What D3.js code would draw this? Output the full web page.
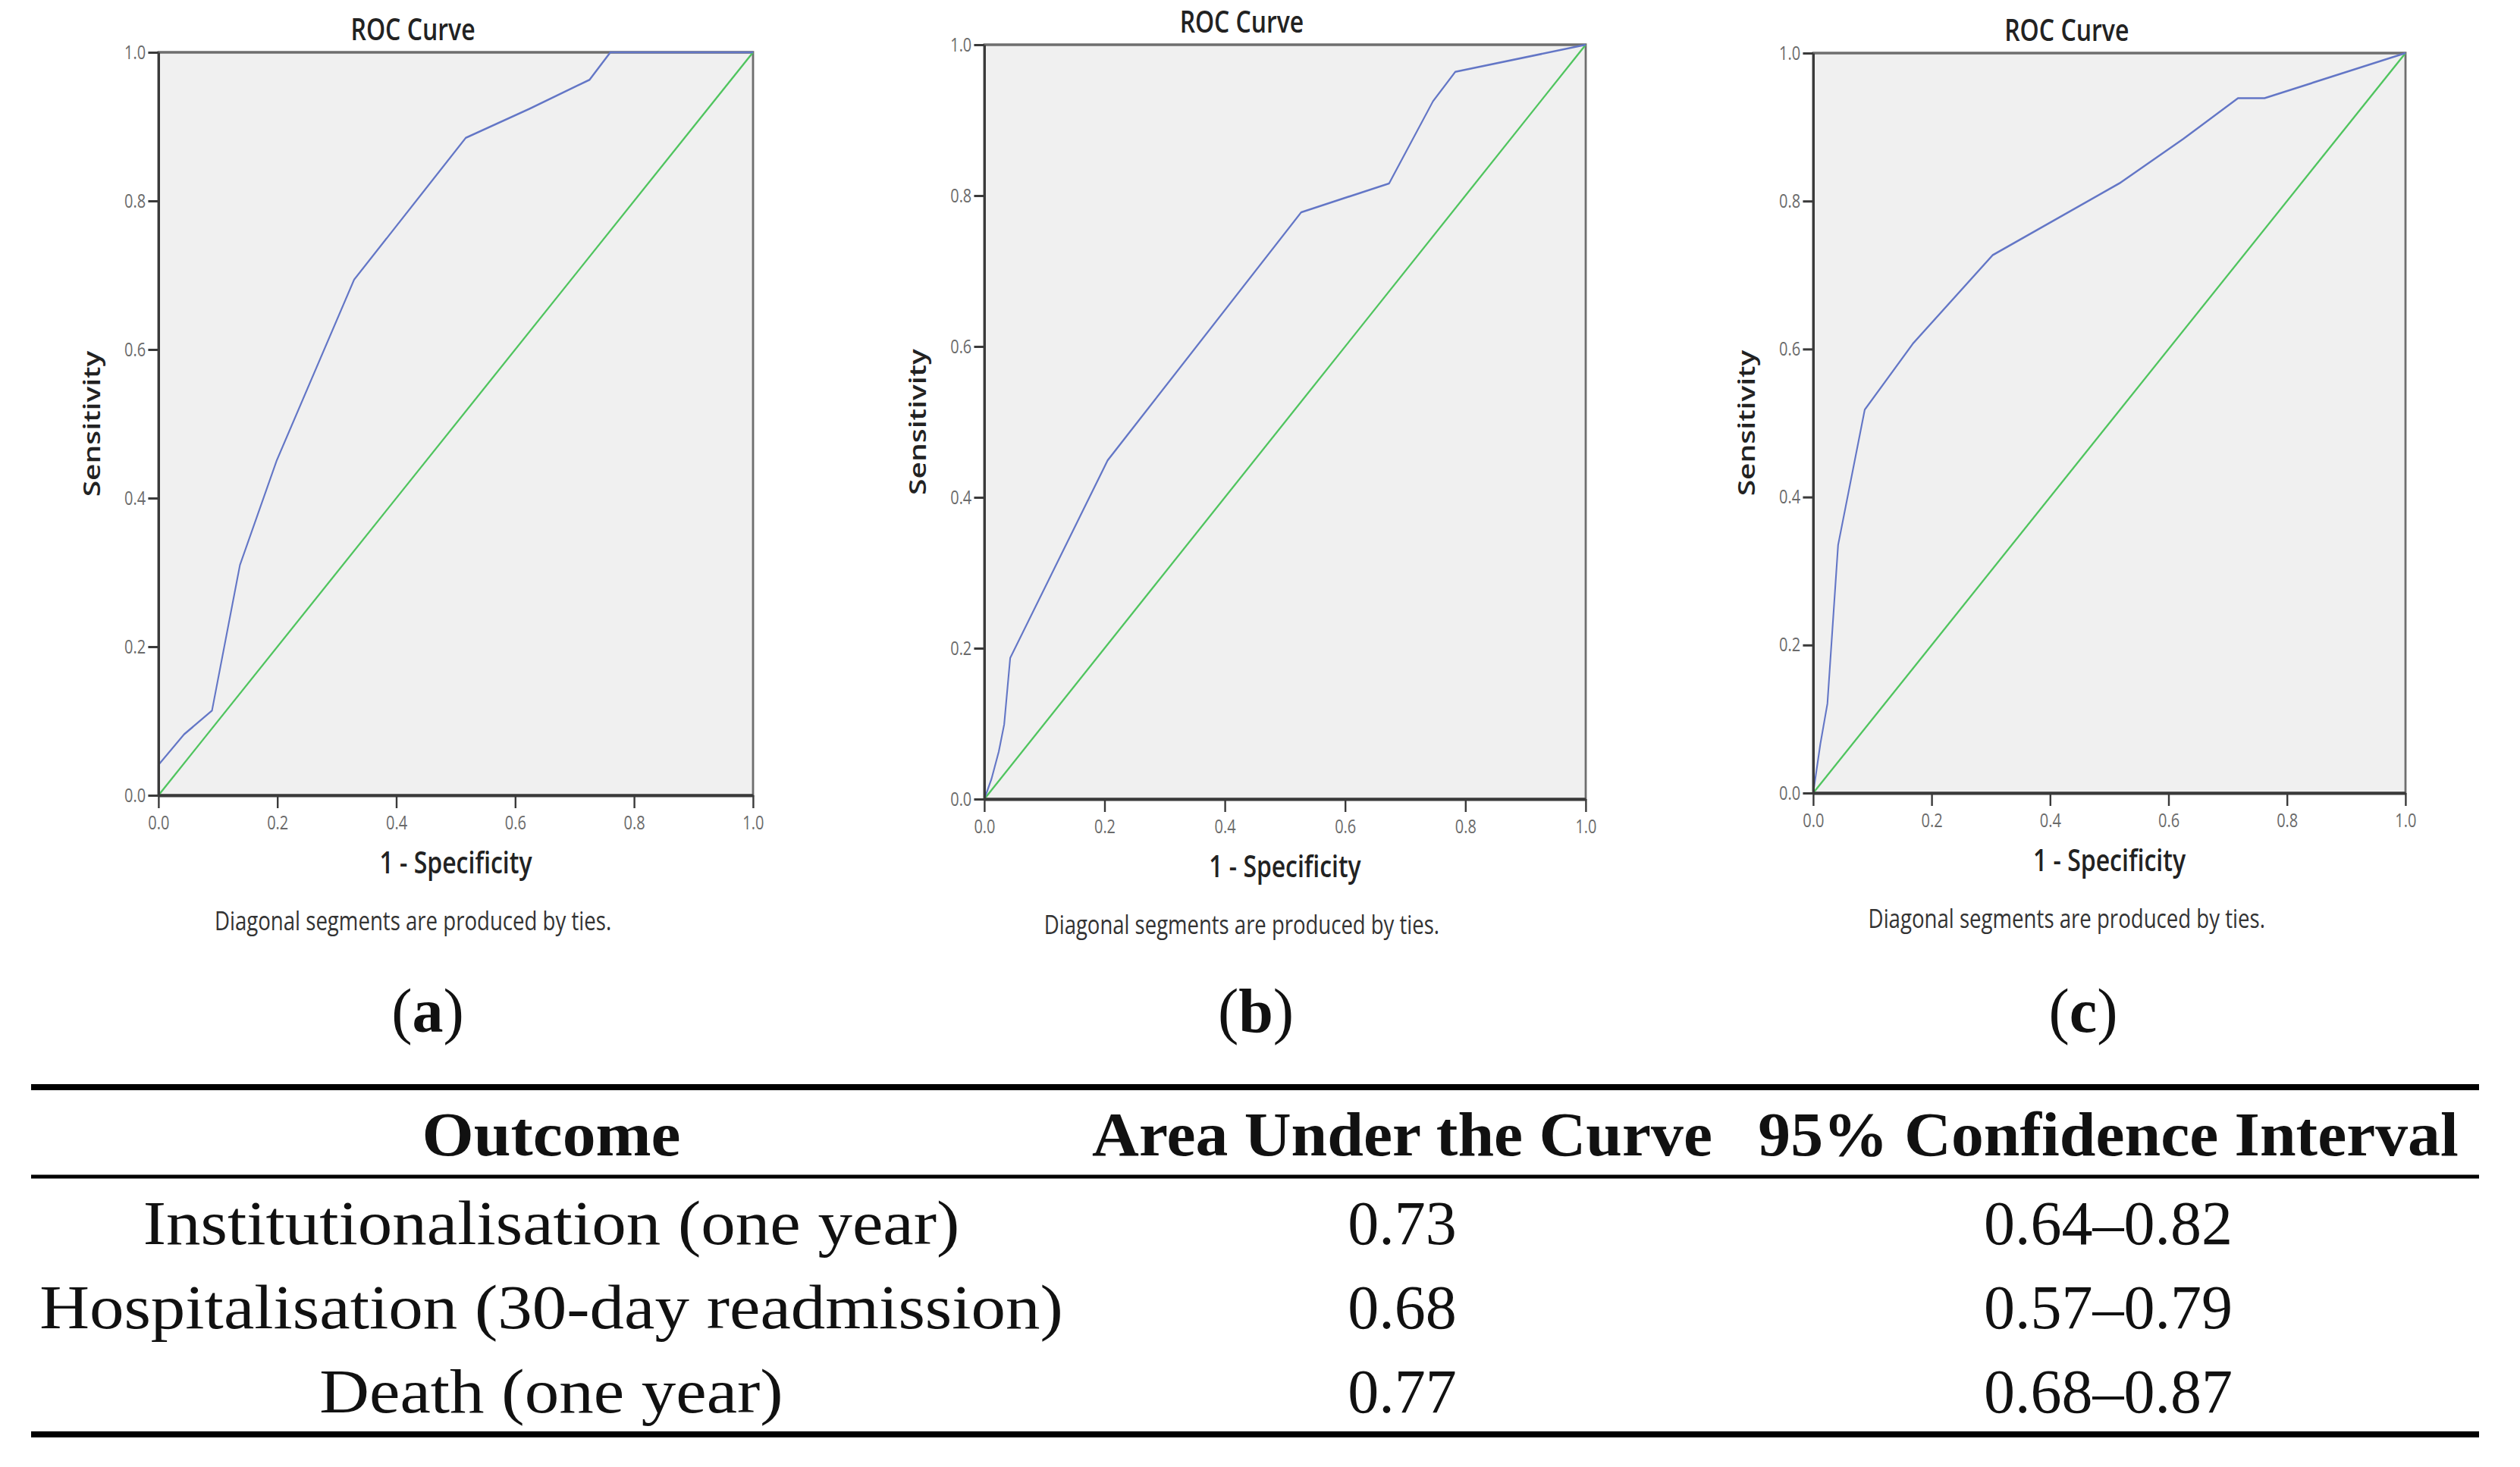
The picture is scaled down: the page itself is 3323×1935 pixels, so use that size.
<!DOCTYPE html>
<html>
<head>
<meta charset="utf-8">
<script src="https://cdn.jsdelivr.net/npm/d3@7"></script>
<style>
    body { margin: 0; background: #fff; }
</style>
</head>
<body>
<svg id="fig"></svg>
<script>
"use strict";

const width = 3323;
const height = 1935;

// ROC points: [1 - specificity, sensitivity]
const roc_a = [[0, 0], [0, 0.041], [0.043, 0.082], [0.09, 0.114], [0.137, 0.31], [0.199, 0.451],
    [0.329, 0.694], [0.517, 0.885], [0.624, 0.924], [0.725, 0.963], [0.76, 1], [1, 1]];
const roc_b = [[0, 0], [0.012, 0.027], [0.024, 0.063], [0.033, 0.099], [0.043, 0.187], [0.205, 0.449],
    [0.527, 0.778], [0.673, 0.816], [0.746, 0.925], [0.783, 0.964], [1, 1]];
const roc_c = [[0, 0], [0.012, 0.066], [0.024, 0.121], [0.042, 0.335], [0.087, 0.518], [0.168, 0.607],
    [0.303, 0.727], [0.517, 0.824], [0.625, 0.884], [0.717, 0.939], [0.762, 0.939], [1, 1]];
const reference_line = [[0, 0], [1, 1]];

const tick_values = [0, 0.2, 0.4, 0.6, 0.8, 1.0];
const panel_letters = ["a", "b", "c"];

const outcomes = ["Institutionalisation (one year)", "Hospitalisation (30-day readmission)", "Death (one year)"];
const auc_values = ["0.73", "0.68", "0.77"];
const ci_labels = ["0.64\u20130.82", "0.57\u20130.79", "0.68\u20130.87"];
const table_headers = ["Outcome", "Area Under the Curve", "95% Confidence Interval"];

const chart_font = "'Open Sans', 'DejaVu Sans', sans-serif";
const table_font = "'Liberation Serif', 'DejaVu Serif', serif";
const curve_color = "#6376c6";
const diag_color = "#4fc45e";

const svg = d3.select("#fig")
    .attr("width", width)
    .attr("height", height);

svg.append("rect")
    .attr("width", width)
    .attr("height", height)
    .attr("fill", "#fff");

// plot boxes in page pixels; the SPSS charts are squeezed horizontally
const panels = [
    { curve: roc_a, left: 209, top: 69, w: 784, h: 980, label_x: 564 },
    { curve: roc_b, left: 1298, top: 59, w: 793, h: 995, label_x: 1656 },
    { curve: roc_c, left: 2391, top: 70, w: 781, h: 976, label_x: 2747 }
];

panels.forEach((p, i) => {
    const size = p.h;
    const g = svg.append("g")
        .attr("transform", `translate(${p.left}, ${p.top}) scale(${p.w / p.h}, 1)`);

    const x_scale = d3.scaleLinear().domain([0, 1]).range([0, size]);
    const y_scale = d3.scaleLinear().domain([0, 1]).range([size, 0]);

    g.append("rect")
        .attr("width", size)
        .attr("height", size)
        .attr("fill", "#f0f0f0")
        .attr("stroke", "#6e6e6e")
        .attr("stroke-width", 3.5);

    const line = d3.line()
        .x(d => x_scale(d[0]))
        .y(d => y_scale(d[1]));

    g.append("path")
        .datum(reference_line)
        .attr("d", line)
        .attr("fill", "none")
        .attr("stroke", diag_color)
        .attr("stroke-width", 2.6);

    g.append("path")
        .datum(p.curve)
        .attr("d", line)
        .attr("fill", "none")
        .attr("stroke", curve_color)
        .attr("stroke-width", 2.6)
        .attr("stroke-linejoin", "round");

    // axis
    const axis_x = g.append("g")
        .attr("transform", `translate(0, ${size})`)
        .call(
            d3.axisBottom(x_scale)
                .tickValues(tick_values)
                .tickFormat(d3.format(".1f"))
                .tickSize(17)
                .tickSizeOuter(0)
                .tickPadding(10)
        );

    const axis_y = g.append("g")
        .call(
            d3.axisLeft(y_scale)
                .tickValues(tick_values)
                .tickFormat(d3.format(".1f"))
                .tickSize(17)
                .tickSizeOuter(0)
                .tickPadding(4)
        );

    [axis_x, axis_y].forEach(ax => {
        ax.select(".domain")
            .attr("stroke", "#3a3a3a")
            .attr("stroke-width", 4);
        ax.selectAll(".tick line")
            .attr("stroke", "#3a3a3a")
            .attr("stroke-width", 3);
        ax.selectAll(".tick text")
            .attr("font-family", chart_font)
            .attr("font-size", 25)
            .attr("fill", "#6a6a6a");
    });

    g.append("text")
        .attr("x", size * 0.428)
        .attr("y", -16)
        .attr("text-anchor", "middle")
        .attr("font-family", chart_font)
        .attr("font-size", 40)
        .attr("font-weight", 600)
        .attr("fill", "#222")
        .text("ROC Curve");

    g.append("text")
        .attr("transform", `translate(-96, ${size / 2}) rotate(-90)`)
        .attr("text-anchor", "middle")
        .attr("font-family", chart_font)
        .attr("font-size", 39)
        .attr("font-weight", 600)
        .attr("fill", "#222")
        .text("Sensitivity");

    g.append("text")
        .attr("x", size / 2)
        .attr("y", size + 103)
        .attr("text-anchor", "middle")
        .attr("font-family", chart_font)
        .attr("font-size", 40)
        .attr("font-weight", 600)
        .attr("fill", "#222")
        .text("1 - Specificity");

    g.append("text")
        .attr("x", size * 0.428)
        .attr("y", size + 178)
        .attr("text-anchor", "middle")
        .attr("font-family", chart_font)
        .attr("font-size", 34.5)
        .attr("fill", "#333")
        .text("Diagonal segments are produced by ties.");

    // (a), (b), (c)
    const lab = svg.append("text")
        .attr("x", p.label_x)
        .attr("y", 1361)
        .attr("text-anchor", "middle")
        .attr("font-family", table_font)
        .attr("font-size", 82)
        .attr("fill", "#111");
    lab.append("tspan").text("(");
    lab.append("tspan").attr("font-weight", "bold").text(panel_letters[i]);
    lab.append("tspan").text(")");
});

// table under the charts
const table_left = 41;
const table_right = 3269;
const col_x = [727, 1849, 2780];
const header_y = 1524;
const row_y = [1641, 1752, 1863];
// the original serif face is wider than Liberation Serif for letters
const header_stretch = [1.07, 1.045, 1.045];
const row_stretch = [1.11, 1, 1];

const rules = [
    { y: 1434, w: 8 },
    { y: 1552, w: 5 },
    { y: 1892, w: 8 }
];

svg.append("g")
    .selectAll("line")
    .data(rules)
    .enter()
    .append("line")
    .attr("x1", table_left)
    .attr("x2", table_right)
    .attr("y1", d => d.y)
    .attr("y2", d => d.y)
    .attr("stroke", "#000")
    .attr("stroke-width", d => d.w);

svg.append("g")
    .selectAll("text")
    .data(table_headers)
    .enter()
    .append("text")
    .attr("transform", (d, i) => `translate(${col_x[i]}, ${header_y}) scale(${header_stretch[i]}, 1)`)
    .attr("text-anchor", "middle")
    .attr("font-family", table_font)
    .attr("font-size", 82)
    .attr("font-weight", "bold")
    .attr("fill", "#111")
    .text(d => d);

const rows = outcomes.map((d, i) => [d, auc_values[i], ci_labels[i]]);

const row_g = svg.append("g")
    .selectAll("g")
    .data(rows)
    .enter()
    .append("g");

row_g.selectAll("text")
    .data((d, i) => d.map(v => ({ v: v, row: i })))
    .enter()
    .append("text")
    .attr("transform", (d, j) => `translate(${col_x[j]}, ${row_y[d.row]}) scale(${row_stretch[j]}, 1)`)
    .attr("text-anchor", "middle")
    .attr("font-family", table_font)
    .attr("font-size", 82)
    .attr("fill", "#111")
    .text(d => d.v);
</script>
</body>
</html>
